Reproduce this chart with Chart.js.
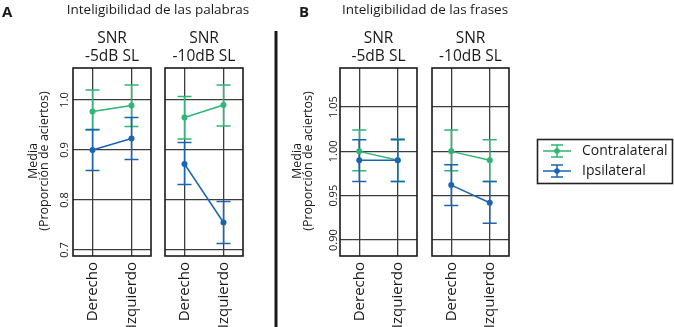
<!DOCTYPE html>
<html lang="es">
<head>
<meta charset="utf-8">
<title>Inteligibilidad de palabras y frases</title>
<script src="https://cdn.jsdelivr.net/npm/chart.js@4.4.1/dist/chart.umd.min.js"></script>
<style>
  body { margin: 0; background: #fff; }
  #lienzo { position: relative; width: 674px; height: 327px; overflow: hidden; }
  #lienzo canvas { position: absolute; left: 0; top: 0; }
</style>
</head>
<body>
<div id="lienzo">
  <canvas id="graficoA1" width="674" height="327"></canvas>
  <canvas id="graficoA2" width="674" height="327"></canvas>
  <canvas id="graficoB1" width="674" height="327"></canvas>
  <canvas id="graficoB2" width="674" height="327"></canvas>
</div>
<script>
const categorias = ['Derecho', 'Izquierdo'];
const series = ['Contralateral', 'Ipsilateral'];
const ticksPalabras = [0.7, 0.8, 0.9, 1.0];
const ticksFrases = [0.90, 0.95, 1.00, 1.05];

// palabras, SNR -5dB SL
const palabras5Contra = [0.977, 0.989];
const palabras5ContraSup = [1.020, 1.030];
const palabras5ContraInf = [0.940, 0.947];
const palabras5Ipsi = [0.900, 0.923];
const palabras5IpsiSup = [0.941, 0.965];
const palabras5IpsiInf = [0.859, 0.881];

// palabras, SNR -10dB SL
const palabras10Contra = [0.965, 0.990];
const palabras10ContraSup = [1.007, 1.030];
const palabras10ContraInf = [0.922, 0.948];
const palabras10Ipsi = [0.872, 0.755];
const palabras10IpsiSup = [0.915, 0.797];
const palabras10IpsiInf = [0.831, 0.713];

// frases, SNR -5dB SL
const frases5Contra = [1.000, 0.990];
const frases5ContraSup = [1.024, 1.014];
const frases5ContraInf = [0.978, 0.966];
const frases5Ipsi = [0.990, 0.990];
const frases5IpsiSup = [1.013, 1.013];
const frases5IpsiInf = [0.966, 0.966];

// frases, SNR -10dB SL
const frases10Contra = [1.000, 0.990];
const frases10ContraSup = [1.024, 1.013];
const frases10ContraInf = [0.978, 0.966];
const frases10Ipsi = [0.962, 0.942];
const frases10IpsiSup = [0.985, 0.966];
const frases10IpsiInf = [0.939, 0.919];

const verde = '#2fb574';
const azul = '#1a64b4';
const FUENTE = "'Open Sans', sans-serif";
Chart.defaults.font.family = FUENTE;

const pluginPanel = {
    id: 'panel',
    beforeDatasetsDraw(chart) {
        // barras de error
        const ctx = chart.ctx;
        const sx = chart.scales.x, sy = chart.scales.y;
        chart.data.datasets.forEach(ds => {
            ctx.save();
            ctx.strokeStyle = ds.borderColor;
            ctx.lineWidth = 1.5;
            ds.errSup.forEach((sup, i) => {
                const px = sx.getPixelForValue(i);
                const pSup = sy.getPixelForValue(sup);
                const pInf = sy.getPixelForValue(ds.errInf[i]);
                ctx.beginPath();
                ctx.moveTo(px, pSup); ctx.lineTo(px, pInf);
                ctx.moveTo(px - 7, pSup); ctx.lineTo(px + 7, pSup);
                ctx.moveTo(px - 7, pInf); ctx.lineTo(px + 7, pInf);
                ctx.stroke();
            });
            ctx.restore();
        });
    },
    afterDraw(chart, args, opts) {
        const ctx = chart.ctx;
        const a = chart.chartArea;
        const sy = chart.scales.y;
        ctx.save();
        ctx.strokeStyle = '#1a1a1a';
        ctx.lineWidth = 1.6;
        ctx.strokeRect(a.left, a.top, a.right - a.left, a.bottom - a.top);

        // subtitulo SNR
        ctx.fillStyle = '#1a1a1a';
        ctx.textAlign = 'center';
        ctx.textBaseline = 'middle';
        ctx.font = '15.5px ' + FUENTE;
        const cx = (a.left + a.right) / 2;
        ctx.fillText(opts.subtitulo[0], cx, 39);
        ctx.fillText(opts.subtitulo[1], cx, 57);

        if (opts.ejeY) {
            ctx.font = '11px ' + FUENTE;
            sy.ticks.forEach(t => {
                ctx.save();
                ctx.translate(a.left - opts.ejeY.sep, sy.getPixelForValue(t.value));
                ctx.rotate(-Math.PI / 2);
                ctx.fillText(t.value.toFixed(opts.ejeY.decimales), 0, 0);
                ctx.restore();
            });
            ctx.font = '12.5px ' + FUENTE;
            const cy = 161;
            ctx.save();
            ctx.translate(a.left - opts.ejeY.titulo, cy);
            ctx.rotate(-Math.PI / 2);
            ctx.fillText('Media', 0, -11);
            ctx.fillText('(Proporción de aciertos)', 0, 0);
            ctx.restore();
        }
        if (opts.extra) opts.extra(ctx, chart);
        ctx.restore();
    }
};

function dibujarEncabezadoA(ctx) {
    ctx.font = 'bold 15px ' + FUENTE;
    ctx.textAlign = 'left';
    ctx.fillText('A', 2, 13);
    ctx.font = '13.5px ' + FUENTE;
    ctx.textAlign = 'center';
    ctx.fillText('Inteligibilidad de las palabras', 158, 10);
    ctx.fillStyle = '#1a1a1a';
    ctx.fillRect(274.5, 31, 3, 296);
}

function dibujarEncabezadoB(ctx) {
    ctx.font = 'bold 15px ' + FUENTE;
    ctx.textAlign = 'left';
    ctx.fillText('B', 299, 13);
    ctx.font = '13.5px ' + FUENTE;
    ctx.textAlign = 'center';
    ctx.fillText('Inteligibilidad de las frases', 425, 10);
}

function dibujarLeyenda(ctx) {
    ctx.strokeStyle = '#222';
    ctx.lineWidth = 1.6;
    ctx.strokeRect(537.5, 139.5, 135, 44);
    const colores = [verde, azul];
    series.forEach((nombre, i) => {
        const y = 151 + i * 20;
        ctx.strokeStyle = colores[i];
        ctx.fillStyle = colores[i];
        ctx.lineWidth = 1.5;
        ctx.beginPath();
        ctx.moveTo(543, y); ctx.lineTo(571, y);
        ctx.moveTo(557, y - 6); ctx.lineTo(557, y + 6);
        ctx.moveTo(551, y - 6); ctx.lineTo(563, y - 6);
        ctx.moveTo(551, y + 6); ctx.lineTo(563, y + 6);
        ctx.stroke();
        ctx.beginPath();
        ctx.arc(557, y, 2.8, 0, Math.PI * 2);
        ctx.fill();
        ctx.fillStyle = '#1a1a1a';
        ctx.font = '14px ' + FUENTE;
        ctx.textAlign = 'left';
        ctx.textBaseline = 'middle';
        ctx.fillText(nombre, 582, y);
    });
}

function crearPanel(id, caja, limites, ticksY, contra, ipsi, opciones) {
    const ctx = document.getElementById(id).getContext('2d');
    return new Chart(ctx, {
        type: 'line',
        data: {
            labels: categorias,
            datasets: [{
                label: series[0],
                data: contra[0],
                errSup: contra[1],
                errInf: contra[2],
                borderColor: verde,
                backgroundColor: verde,
                pointBackgroundColor: verde,
                borderWidth: 1.5,
                pointRadius: 3,
                pointBorderWidth: 0,
                order: 1
            }, {
                label: series[1],
                data: ipsi[0],
                errSup: ipsi[1],
                errInf: ipsi[2],
                borderColor: azul,
                backgroundColor: azul,
                pointBackgroundColor: azul,
                borderWidth: 1.5,
                pointRadius: 3,
                pointBorderWidth: 0,
                order: 0
            }]
        },
        options: {
            responsive: false,
            animation: false,
            events: [],
            layout: { padding: { left: caja[0], right: 674 - caja[1], top: 68, bottom: 0 } },
            plugins: {
                legend: { display: false },
                tooltip: { enabled: false },
                panel: opciones
            },
            scales: {
                x: {
                    type: 'category',
                    offset: true,
                    grid: { offset: false, color: '#3c3c3c', lineWidth: 1.3, drawTicks: false },
                    border: { display: false },
                    ticks: {
                        autoSkip: false, minRotation: 90, maxRotation: 90, padding: 6,
                        color: '#1a1a1a', font: { size: 15, family: FUENTE }
                    },
                    afterFit: s => { s.height = 71; }
                },
                y: {
                    min: limites[0],
                    max: limites[1],
                    afterBuildTicks: s => { s.ticks = ticksY.map(v => ({ value: v })); },
                    grid: { color: '#3c3c3c', lineWidth: 1.3, drawTicks: false },
                    border: { display: false },
                    ticks: { display: false },
                    afterFit: s => { s.width = 0; }
                }
            }
        },
        plugins: [pluginPanel]
    });
}

crearPanel('graficoA1', [73, 151], [0.688, 1.064], ticksPalabras,
    [palabras5Contra, palabras5ContraSup, palabras5ContraInf],
    [palabras5Ipsi, palabras5IpsiSup, palabras5IpsiInf],
    { subtitulo: ['SNR', '-5dB SL'], ejeY: { sep: 8, decimales: 1, titulo: 29 }, extra: dibujarEncabezadoA });

crearPanel('graficoA2', [165, 243], [0.688, 1.064], ticksPalabras,
    [palabras10Contra, palabras10ContraSup, palabras10ContraInf],
    [palabras10Ipsi, palabras10IpsiSup, palabras10IpsiInf],
    { subtitulo: ['SNR', '-10dB SL'] });

crearPanel('graficoB1', [340, 417], [0.882, 1.094], ticksFrases,
    [frases5Contra, frases5ContraSup, frases5ContraInf],
    [frases5Ipsi, frases5IpsiSup, frases5IpsiInf],
    { subtitulo: ['SNR', '-5dB SL'], ejeY: { sep: 6, decimales: 2, titulo: 32 }, extra: dibujarEncabezadoB });

crearPanel('graficoB2', [432, 509], [0.882, 1.094], ticksFrases,
    [frases10Contra, frases10ContraSup, frases10ContraInf],
    [frases10Ipsi, frases10IpsiSup, frases10IpsiInf],
    { subtitulo: ['SNR', '-10dB SL'], extra: dibujarLeyenda });
</script>
</body>
</html>
